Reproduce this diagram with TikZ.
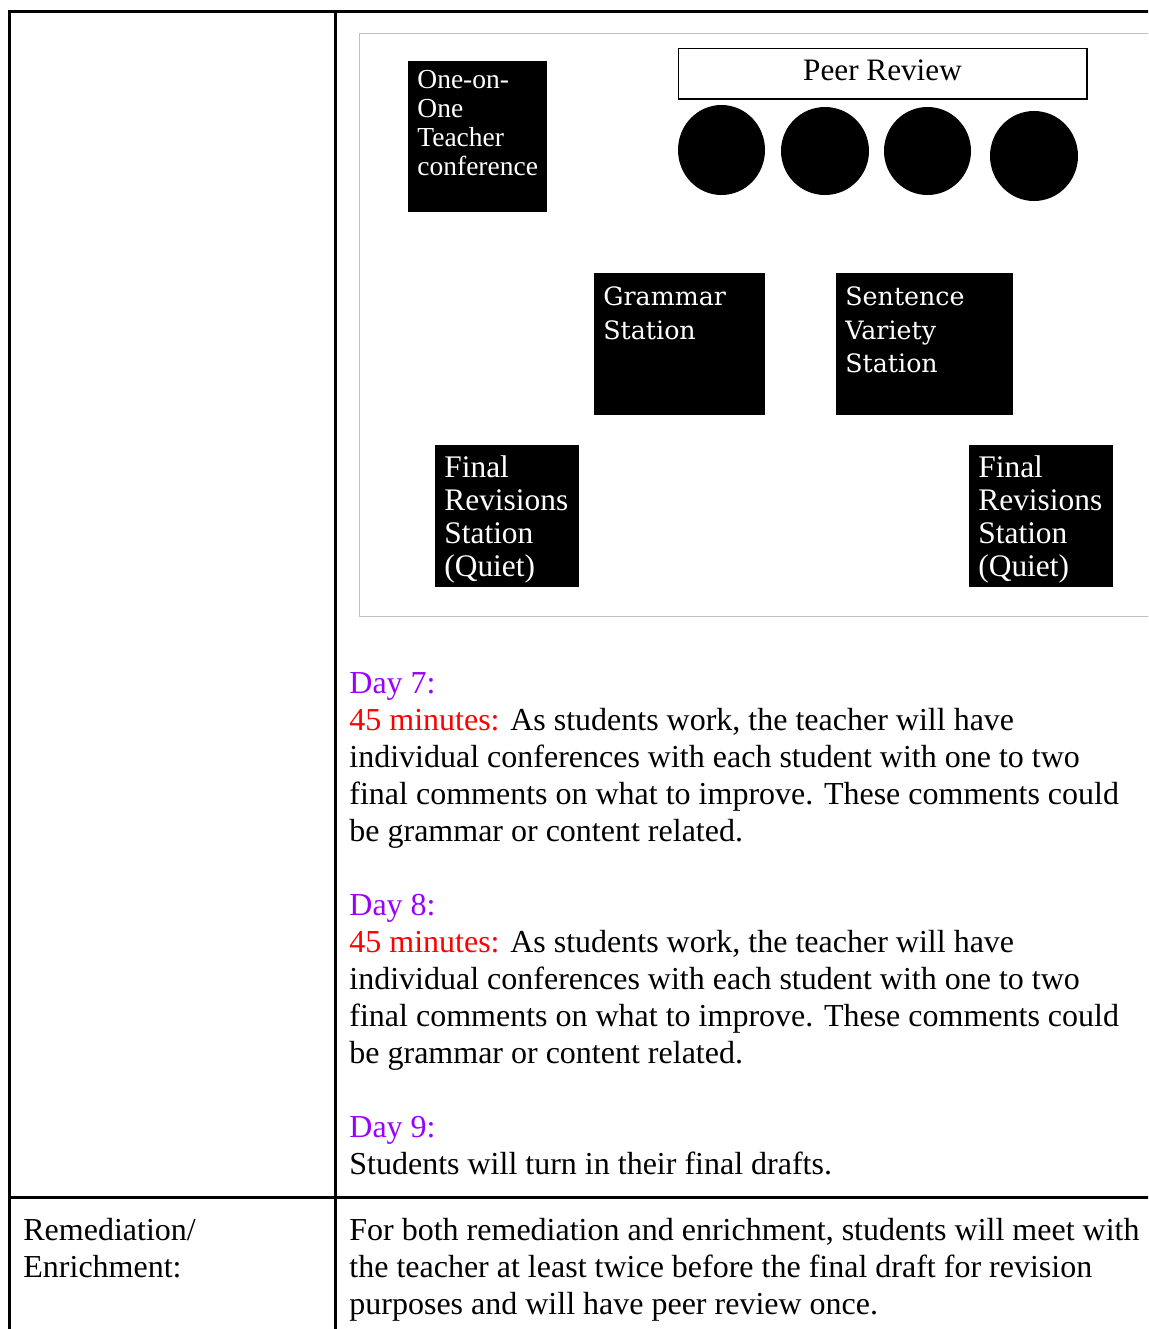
\documentclass[tikz,border=0pt]{standalone}
\usepackage{fontspec}
\setmainfont{Liberation Serif}
\newfontfamily\dvs{DejaVu Serif}
\definecolor{dayc}{HTML}{9900FF}
\definecolor{minc}{HTML}{FF0000}
\definecolor{framec}{HTML}{C0C0C0}
\tikzset{
  body/.style={anchor=base west, inner sep=0pt, font=\fontsize{16pt}{18.5pt}\selectfont},
  wtxt/.style={anchor=base west, inner sep=0pt, text=white},
  oneft/.style={font=\fontsize{13.75pt}{14.5pt}\selectfont},
  gramft/.style={font=\dvs\fontsize{12.65pt}{17pt}\selectfont},
  finft/.style={font=\fontsize{15.7pt}{16.5pt}\selectfont},
  tbl/.style={line width=1.5pt},
}
\begin{document}
\begin{tikzpicture}[x=0.5pt,y=-0.5pt]
\useasboundingbox (0,0) rectangle (1148,1329);
\clip (0,0) rectangle (1148,1329);
% table lines
\draw[tbl] (9.5,1340) -- (9.5,11.5) -- (1160,11.5);
\draw[tbl] (335.5,11.5) -- (335.5,1340);
\draw[tbl] (9.5,1197.5) -- (1160,1197.5);
% diagram frame
\draw[framec, line width=0.6pt] (1160,33.5) -- (359.5,33.5) -- (359.5,616.5) -- (1160,616.5);
% boxes
\fill (408,61) rectangle (547,212);
\fill (594,273) rectangle (765,415);
\fill (836,273) rectangle (1013,415);
\fill (435,445) rectangle (579,587);
\fill (969,445) rectangle (1113,587);
\draw[line width=0.7pt] (678.5,48.5) rectangle (1087,99);
% circles
\fill (721.5,150) ellipse [x radius=43.5, y radius=45];
\fill (825,151) ellipse [x radius=44, y radius=44];
\fill (927.5,151) ellipse [x radius=43.5, y radius=44];
\fill (1034,156) ellipse [x radius=44, y radius=45];
% box texts
\node[anchor=base, inner sep=0pt, font=\fontsize{15.6pt}{16pt}\selectfont] (peer) at (882.5,80) {Peer Review};
\node[wtxt, oneft] (o1) at (417,88) {One-on-};
\node[wtxt, oneft] (o2) at (417,117) {One};
\node[wtxt, oneft] (o3) at (417,146) {Teacher};
\node[wtxt, oneft] (o4) at (417,175) {conference};
\node[wtxt, gramft] (g1) at (603,305) {Grammar};
\node[wtxt, gramft] (g2) at (603,339) {Station};
\node[wtxt, gramft] (s1) at (845,305) {Sentence};
\node[wtxt, gramft] (s2) at (845,339) {Variety};
\node[wtxt, gramft] (s3) at (845,372) {Station};
\node[wtxt, finft] (fa1) at (444,477) {Final};
\node[wtxt, finft] (fa2) at (444,510) {Revisions};
\node[wtxt, finft] (fa3) at (444,543) {Station};
\node[wtxt, finft] (fa4) at (444,576) {(Quiet)};
\node[wtxt, finft] (fb1) at (978,477) {Final};
\node[wtxt, finft] (fb2) at (978,510) {Revisions};
\node[wtxt, finft] (fb3) at (978,543) {Station};
\node[wtxt, finft] (fb4) at (978,576) {(Quiet)};
% Day 7
\node[body, text=dayc] (d7) at (349,693) {Day 7:};
\node[body] (d7a) at (349,730) {\textcolor{minc}{45 minutes:} As students work, the teacher will have};
\node[body] (d7b) at (349,767) {individual conferences with each student with one to two};
\node[body] (d7c) at (349,804) {final comments on what to improve. These comments could};
\node[body] (d7d) at (349,841) {be grammar or content related.};
% Day 8
\node[body, text=dayc] (d8) at (349,915) {Day 8:};
\node[body] (d8a) at (349,952) {\textcolor{minc}{45 minutes:} As students work, the teacher will have};
\node[body] (d8b) at (349,989) {individual conferences with each student with one to two};
\node[body] (d8c) at (349,1026) {final comments on what to improve. These comments could};
\node[body] (d8d) at (349,1063) {be grammar or content related.};
% Day 9
\node[body, text=dayc] (d9) at (349,1137) {Day 9:};
\node[body] (d9a) at (349,1174) {Students will turn in their final drafts.};
% Remediation row
\node[body] (r1) at (23,1240) {Remediation/};
\node[body] (r2) at (23,1277) {Enrichment:};
\node[body] (e1) at (349,1240) {For both remediation and enrichment, students will meet with};
\node[body] (e2) at (349,1277) {the teacher at least twice before the final draft for revision};
\node[body] (e3) at (349,1314) {purposes and will have peer review once.};
\end{tikzpicture}
\end{document}
